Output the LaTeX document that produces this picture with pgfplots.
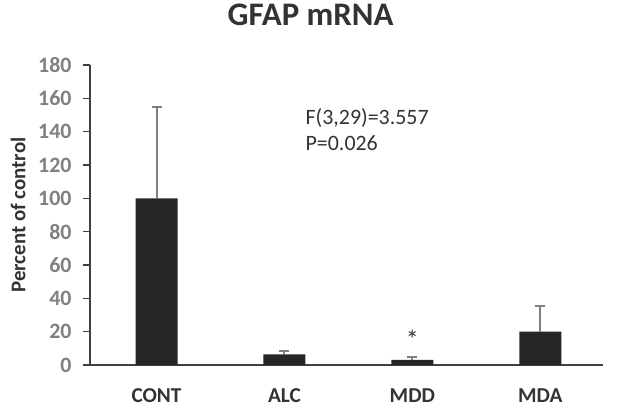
\documentclass[border=0pt]{standalone}
\usepackage{fontspec}
\setmainfont{Carlito}
\usepackage{pgfplots}
\pgfplotsset{compat=1.18}
\definecolor{barc}{HTML}{262626}
\definecolor{errc}{HTML}{808080}
\definecolor{axc}{HTML}{404040}
\definecolor{tickc}{HTML}{808080}
\definecolor{txtc}{HTML}{333333}
\begin{document}
\begin{tikzpicture}
\useasboundingbox (-90bp,-44bp) rectangle (542bp,365bp);
\begin{axis}[
  anchor=south west, at={(0,0)},
  scale only axis, width=513bp, height=300bp,
  xmin=-0.52, xmax=3.49, ymin=0, ymax=180,
  ytick={0,20,...,180},
  xtick={0,1,2,3}, xticklabels={CONT,ALC,MDD,MDA},
  axis x line*=bottom, axis y line*=left,
  axis line style={-, axc, line width=1.6bp},
  tick align=outside,
  major tick length=7bp,
  y tick style={axc, line width=1.6bp},
  x tick style={draw=none},
  /pgf/number format/assume math mode=true,
  yticklabel style={font=\fontsize{22}{26}\selectfont\bfseries, text=tickc, xshift=-8bp},
  xticklabel style={font=\fontsize{21.3}{25}\selectfont\bfseries, text=txtc, yshift=-13bp},
  ylabel={Percent of control},
  ylabel style={font=\fontsize{21}{25}\selectfont\bfseries, text=txtc, at={(axis description cs:-0.14,0.5)}, anchor=center},
  title={GFAP mRNA},
  title style={font=\fontsize{33}{40}\selectfont\bfseries, text=txtc, at={(axis description cs:0.43,1)}, anchor=center, yshift=44bp},
  clip=false,
]
\addplot[ybar, bar width=42bp, fill=barc, draw=none,
  error bars/.cd, y dir=plus, y explicit,
  error bar style={errc, line width=2bp},
  error mark options={rotate=90, errc, mark size=5bp, line width=2bp}]
  coordinates {(0,100) +- (0,55) (1,6.4) +- (0,2) (2,3) +- (0,2) (3,20) +- (0,15.3)};
\node[anchor=west, font=\fontsize{22}{26}\selectfont, text=txtc, inner sep=0pt] at (axis cs:1.164,148.2) {F(3,29)=3.557};
\node[anchor=west, font=\fontsize{22}{26}\selectfont, text=txtc, inner sep=0pt] at (axis cs:1.164,133.2) {P=0.026};
\node[font=\fontsize{26}{30}\selectfont, text=txtc, inner sep=0pt] at (axis cs:2,15.5) {*};
\end{axis}
\end{tikzpicture}
\end{document}
